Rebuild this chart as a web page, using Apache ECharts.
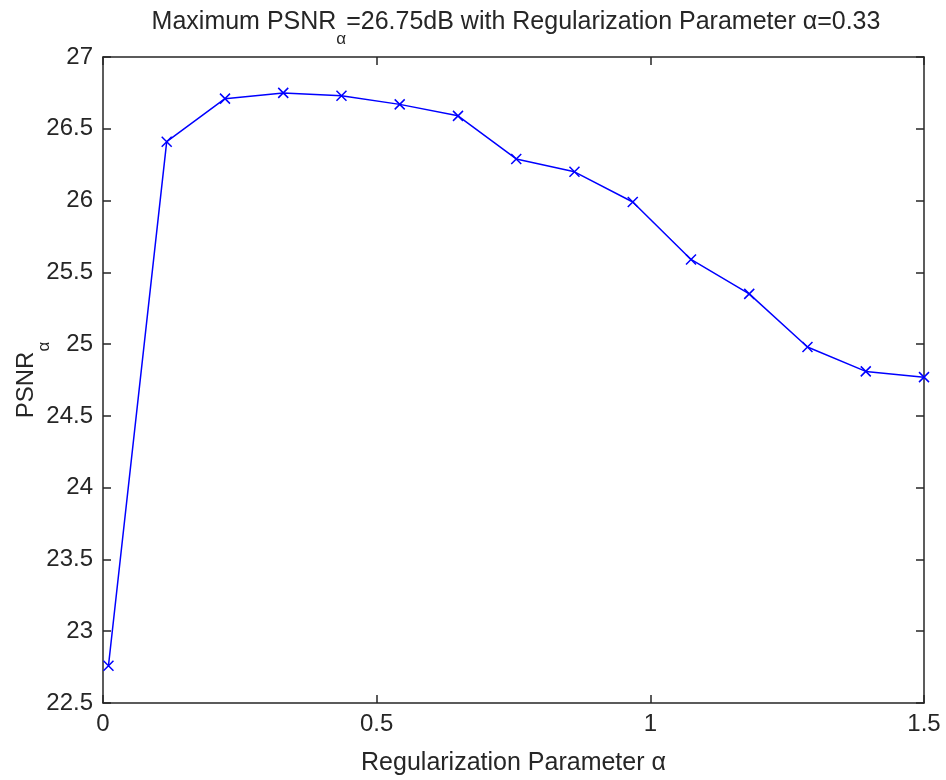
<!DOCTYPE html>
<html>
<head>
<meta charset="utf-8">
<script src="https://cdn.jsdelivr.net/npm/echarts@6/dist/echarts.min.js"></script>
<style>html,body{margin:0;padding:0;background:#fff;}#c{width:946px;height:780px;}</style>
</head>
<body>
<div id="c"></div>
<script>
var alphaValues = [0.01, 0.1164, 0.2229, 0.3293, 0.4357, 0.5421, 0.6486, 0.7550, 0.8614, 0.9679, 1.0743, 1.1807, 1.2871, 1.3936, 1.5];
var psnrValues = [22.76, 26.41, 26.71, 26.75, 26.73, 26.67, 26.59, 26.29, 26.20, 25.99, 25.59, 25.35, 24.98, 24.81, 24.77];
var xTicks = [0, 0.5, 1, 1.5];
var yRange = [22.5, 27];

var FONT = 'Liberation Sans, Arial, sans-serif';
var TXT = '#262626';
var chart = echarts.init(document.getElementById('c'), null, {renderer: 'canvas'});
var axisLineStyle = {color: '#262626', width: 1.5};
var subRich = {
  m: {fontFamily: FONT, fontSize: 25, color: TXT, verticalAlign: 'top', lineHeight: 28},
  s: {fontFamily: FONT, fontSize: 17, color: TXT, verticalAlign: 'top', lineHeight: 28, padding: [21, 0, 0, 0]}
};
var subRichY = {
  m: {fontFamily: FONT, fontSize: 24, color: TXT, verticalAlign: 'top', lineHeight: 27},
  s: {fontFamily: FONT, fontSize: 17, color: TXT, verticalAlign: 'top', lineHeight: 27, padding: [22, 0, 0, 0]}
};
var option = {
  backgroundColor: '#ffffff',
  animation: false,
  title: {
    text: '{m|Maximum PSNR}{s|α}{m|=26.75dB with Regularization Parameter α=0.33}',
    left: 511, textAlign: 'center', top: 5,
    textStyle: {fontFamily: FONT, fontWeight: 'normal', rich: subRich}
  },
  grid: {left: 103, right: 22, top: 57, bottom: 77, containLabel: false, outerBoundsMode: 'none'},
  xAxis: [{
    type: 'value', min: 0, max: 1.5, interval: 0.5,
    name: 'Regularization Parameter α', nameLocation: 'middle', nameGap: 48, nameMoveOverlap: false,
    nameTextStyle: {fontFamily: FONT, fontSize: 25, color: TXT},
    axisLine: {show: true, onZero: false, lineStyle: axisLineStyle},
    axisTick: {show: true, inside: true, length: 8, lineStyle: axisLineStyle},
    axisLabel: {fontFamily: FONT, fontSize: 24, color: TXT, margin: 9,
      formatter: function (v) { return xTicks.indexOf(v) >= 0 ? String(v) : ''; }},
    splitLine: {show: false}
  }, {
    type: 'value', position: 'top', min: 0, max: 1.5, interval: 0.5,
    axisLine: {show: true, onZero: false, lineStyle: axisLineStyle},
    axisTick: {show: true, inside: true, length: 8, lineStyle: axisLineStyle},
    axisLabel: {show: false}, splitLine: {show: false}
  }],
  yAxis: [{
    type: 'value', min: yRange[0], max: yRange[1], interval: 0.5,
    name: '{m|PSNR}{s|α}', nameLocation: 'middle', nameGap: 62, nameRotate: 90, nameMoveOverlap: false,
    nameTextStyle: {fontFamily: FONT, rich: subRichY},
    axisLine: {show: true, onZero: false, lineStyle: axisLineStyle},
    axisTick: {show: true, inside: true, length: 8, lineStyle: axisLineStyle},
    axisLabel: {fontFamily: FONT, fontSize: 24, color: TXT, margin: 10},
    splitLine: {show: false}
  }, {
    type: 'value', position: 'right', min: yRange[0], max: yRange[1], interval: 0.5,
    axisLine: {show: true, onZero: false, lineStyle: axisLineStyle},
    axisTick: {show: true, inside: true, length: 8, lineStyle: axisLineStyle},
    axisLabel: {show: false}, splitLine: {show: false}
  }],
  series: [{
    type: 'line',
    xAxisIndex: 0, yAxisIndex: 0,
    data: alphaValues.map(function (a, i) { return [a, psnrValues[i]]; }),
    lineStyle: {color: '#0000ff', width: 1.5},
    symbol: 'path://M0,0L10,10M10,0L0,10',
    symbolSize: 10,
    showSymbol: true,
    itemStyle: {color: 'none', borderColor: '#0000ff', borderWidth: 1.5},
    emphasis: {disabled: true}
  }]
};
chart.setOption(option);
</script>
</body>
</html>
